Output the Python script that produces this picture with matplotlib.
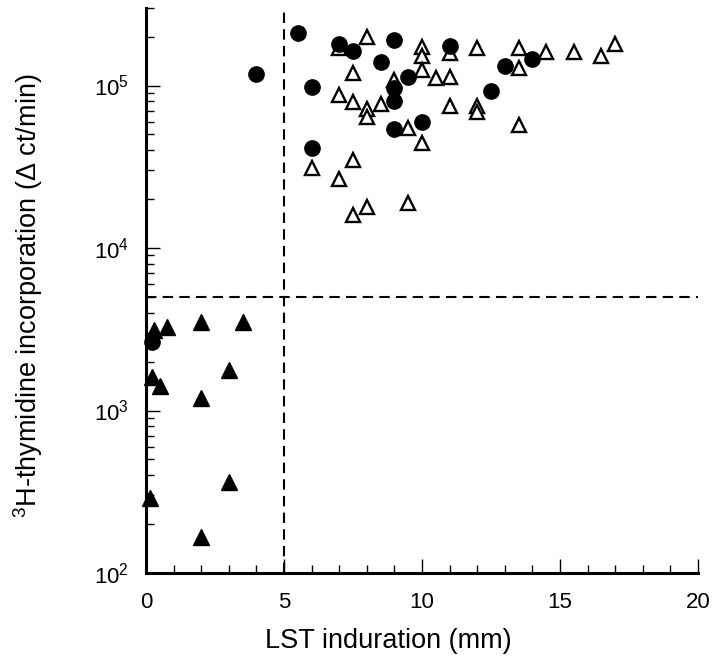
import math
import matplotlib
matplotlib.use("Agg")
import matplotlib.pyplot as plt
from matplotlib.ticker import LogLocator, FixedLocator, NullFormatter, FuncFormatter

plt.rcParams['font.family'] = ['Liberation Sans', 'DejaVu Sans']
plt.rcParams['mathtext.fontset'] = 'custom'
plt.rcParams['mathtext.rm'] = 'Liberation Sans'
plt.rcParams['mathtext.it'] = 'Liberation Sans'

# Filled circles
circ_x = [5.5, 4.0, 6.0, 7.0, 7.5, 9.0, 8.5, 9.5, 9.0, 9.0, 10.0, 9.0, 6.0,
          11.0, 13.0, 14.0, 12.5, 0.2]
circ_y = [2.1e5, 1.18e5, 9.8e4, 1.8e5, 1.64e5, 1.9e5, 1.4e5, 1.13e5, 9.6e4, 8.0e4,
          6.0e4, 5.4e4, 4.15e4, 1.76e5, 1.32e5, 1.45e5, 9.25e4, 2.65e3]

# Open triangles
otri_x = [8.0, 7.0, 10.0, 10.0, 7.5, 10.0, 9.0, 7.0, 7.5, 8.0, 8.0, 8.5, 9.5, 10.0,
          7.5, 6.0, 7.0, 7.5, 8.0, 9.5, 10.5, 11.0, 11.0, 12.0, 11.0, 12.0, 12.0,
          13.5, 13.5, 13.5, 14.5, 15.5, 16.5, 17.0]
otri_y = [1.98e5, 1.69e5, 1.73e5, 1.52e5, 1.2e5, 1.24e5, 1.08e5, 8.8e4, 7.9e4, 7.2e4,
          6.4e4, 7.7e4, 5.45e4, 4.45e4, 3.5e4, 3.1e4, 2.65e4, 1.6e4, 1.8e4, 1.88e4,
          1.12e5, 1.13e5, 1.58e5, 1.71e5, 7.5e4, 7.5e4, 6.9e4, 1.71e5, 1.29e5, 5.7e4,
          1.61e5, 1.61e5, 1.51e5, 1.79e5]

# Filled triangles
ftri_x = [0.3, 0.75, 2.0, 3.5, 0.2, 0.5, 3.0, 2.0, 3.0, 0.15, 2.0]
ftri_y = [3.15e3, 3.25e3, 3.5e3, 3.5e3, 1.6e3, 1.42e3, 1.78e3, 1.2e3, 365, 290, 166]

# Cut-off values
x_cut = 5
y_cut = 5000

fig = plt.figure(figsize=(7.21, 6.67), dpi=100)
ax = fig.add_axes([146 / 721, 1 - 573 / 667, 552 / 721, 565 / 667])

ax.plot(otri_x, otri_y, linestyle='none', marker='^', markersize=10.5,
        markerfacecolor='white', markeredgecolor='black', markeredgewidth=1.7,
        clip_on=False, zorder=3)
ax.plot(circ_x, circ_y, linestyle='none', marker='o', markersize=11,
        markerfacecolor='black', markeredgecolor='black', clip_on=False, zorder=4)
ax.plot(ftri_x, ftri_y, linestyle='none', marker='^', markersize=11,
        markerfacecolor='black', markeredgecolor='black', clip_on=False, zorder=4)

ax.axvline(x_cut, color='black', linestyle=(0, (5, 3)), linewidth=1.5, zorder=2)
ax.axhline(y_cut, color='black', linestyle=(0, (5, 3)), linewidth=1.5, zorder=2)

ax.set_yscale('log')
ax.set_xlim(0, 20)
ax.set_ylim(100, 3e5)

ax.xaxis.set_major_locator(FixedLocator([0, 5, 10, 15, 20]))
ax.xaxis.set_minor_locator(FixedLocator(range(0, 21)))
ax.yaxis.set_major_locator(FixedLocator([1e2, 1e3, 1e4, 1e5]))
ax.yaxis.set_minor_locator(LogLocator(base=10, subs=range(2, 10), numticks=20))
ax.yaxis.set_minor_formatter(NullFormatter())


def pow_label(v, pos):
    e = int(round(math.log10(v)))
    return r'$\mathregular{10^{%d}}$' % e


ax.yaxis.set_major_formatter(FuncFormatter(pow_label))

for side in ('top', 'right'):
    ax.spines[side].set_visible(False)
for side in ('left', 'bottom'):
    ax.spines[side].set_linewidth(2.2)

ax.tick_params(axis='both', which='major', direction='in', length=10, width=1.0,
               labelsize=16, pad=12)
ax.tick_params(axis='both', which='minor', direction='in', length=6, width=1.0)
ax.tick_params(axis='x', which='major', pad=14)

ax.set_xlabel('LST induration (mm)', fontsize=19.5)
ax.set_ylabel(r'$\mathregular{^3}$H-thymidine incorporation ($\Delta$ ct/min)',
              fontsize=19.5)
ax.xaxis.set_label_coords((388 - 146) / 552, -(641 - 573) / 565)
ax.yaxis.set_label_coords(-(146 - 28) / 552, (573 - 296) / 565)
ax.xaxis.label.set_va('center')
ax.yaxis.label.set_va('center')

fig.savefig('out.png', dpi=100)
